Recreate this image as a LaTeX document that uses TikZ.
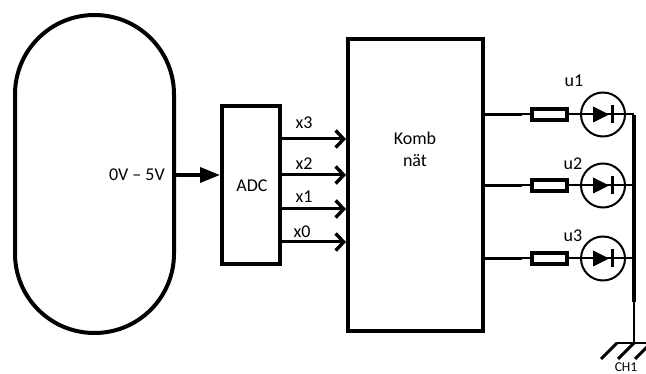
\documentclass[tikz,border=0pt]{standalone}
\usepackage{fontspec}
\setmainfont{Carlito}
\usetikzlibrary{arrows.meta}
\tikzset{x=1pt,y=-1pt,
 thick box/.style={draw=black,line width=4pt,fill=white,inner sep=0pt},
 label text/.style={font=\fontsize{18}{22}\selectfont,inner sep=0pt,text=black},
 bus/.style={line width=3pt,-{Straight Barb[length=8pt,width=17pt,line width=3.4pt]}},
 wire/.style={line width=3pt},
 thin wire/.style={line width=2pt},
 ring/.style={circle,draw=black,line width=2pt,minimum size=44pt,inner sep=0pt},
 res/.style={rectangle,draw=black,line width=4pt,fill=white,minimum width=35pt,minimum height=11pt,inner sep=0pt}}
\begin{document}
\begin{tikzpicture}
\useasboundingbox (0,0) rectangle (646,374);
\draw[line width=4pt,rounded corners=79.4pt] (15,15) rectangle (174,333);
\node[thick box,minimum width=58pt,minimum height=158pt] (adc) at (251,185) {};
\node[label text] at (252,186) {ADC};
\node[thick box,minimum width=135pt,minimum height=292pt] (komb) at (415.5,185) {};
\node[label text,align=center] at (415,149) {Komb\\nät};
\coordinate (inp) at (175,175);
\draw[line width=3.6pt,-{Triangle[length=20pt,width=15pt]}] (inp) -- (inp -| adc.west);
\node[label text,anchor=east] at (165,175) {0V -- 5V};
\foreach \y/\t/\lx/\ly in {139/x3/304/123,175/x2/304/164,209/x1/304/197,242/x0/302/232}{
 \coordinate (a) at (adc.east |- 0,\y);
 \coordinate (b) at (komb.west |- 0,\y);
 \draw[bus] (a) -- (b);
 \node[label text] at (\lx,\ly) {\t};
}
\foreach \y/\t/\n/\lx/\ly in {114.5/u1/d1/574/81,185.5/u2/d2/573/164,258.5/u3/d3/573/236}{
 \coordinate (k) at (komb.east |- 0,\y);
 \node[res] (r\n) at (549.5,\y) {};
 \node[ring] (\n) at (603,\y) {};
 \coordinate (t\n) at (522,\y);
 \draw[wire] (k) -- (t\n);
 \draw[thin wire] (t\n) -- (r\n.west);
 \draw[thin wire] (r\n.east) -- (\n.west);
 \draw[thin wire] (\n.west) -- (\n.east);
 \fill ([xshift=-10pt]\n.center) +(0,-8) -- +(16,0) -- +(0,8) -- cycle;
 \draw[line width=3pt] ([xshift=9pt,yshift=-9pt]\n.center) -- ([xshift=9pt,yshift=9pt]\n.center);
 \coordinate (j\n) at (634,\y);
 \draw[thin wire] (\n.east) -- (j\n);
 \node[label text] at (\lx,\ly) {\t};
}
\coordinate (jm) at (634,302);
\coordinate (gnd) at (634,343);
\draw[line width=3.2pt] ([yshift=-1pt]jd1) -- (jm);
\draw[line width=2pt] (jm) -- (gnd);
\draw[line width=2.8pt] (617,343) -- (646,343);
\foreach \x in {617,634,651}{\draw[line width=3pt] (\x,343) -- (\x-16,359);}
\node[font=\fontsize{13.5}{16}\selectfont,inner sep=0pt,anchor=base] at (626,371) {CH1};
\end{tikzpicture}
\end{document}
